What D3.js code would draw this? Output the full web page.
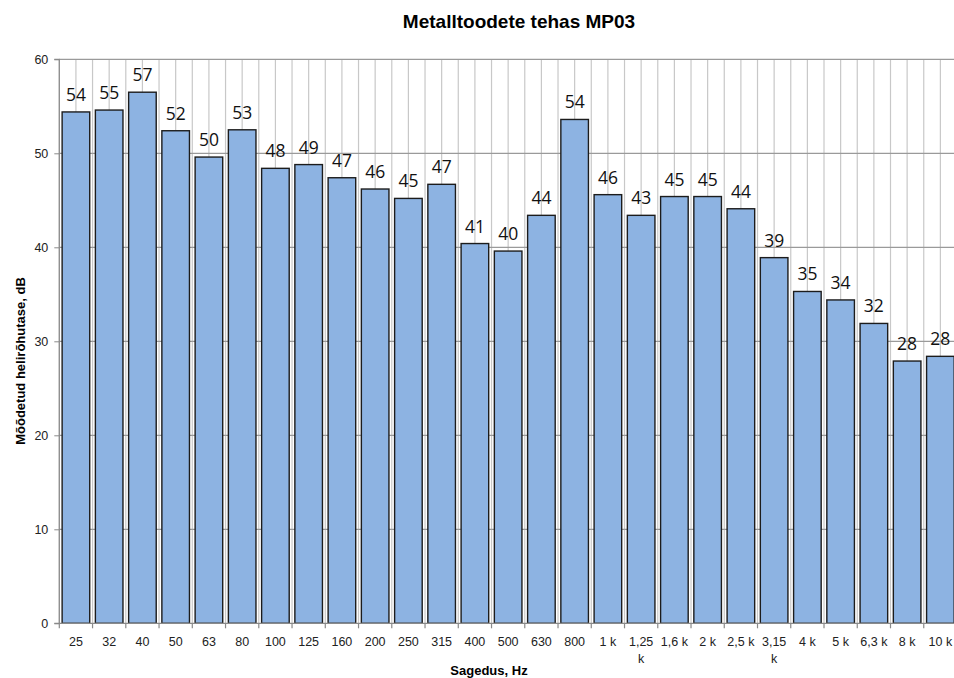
<!DOCTYPE html>
<html>
<head>
<meta charset="utf-8">
<script src="https://cdn.jsdelivr.net/npm/d3@7"></script>
<style>
  html, body { margin: 0; padding: 0; background: #fff; }
  svg { display: block; }
</style>
</head>
<body>
<svg id="chart" width="954" height="678"></svg>
<script>
const categories = ["25","32","40","50","63","80","100","125","160","200","250","315","400","500","630","800","1 k","1,25 k","1,6 k","2 k","2,5 k","3,15 k","4 k","5 k","6,3 k","8 k","10 k"];
const values = [54.4, 54.6, 56.5, 52.4, 49.6, 52.5, 48.4, 48.8, 47.4, 46.2, 45.2, 46.7, 40.4, 39.6, 43.4, 53.6, 45.6, 43.4, 45.4, 45.4, 44.1, 38.9, 35.3, 34.4, 31.9, 27.9, 28.4];
const valueLabels = ["54","55","57","52","50","53","48","49","47","46","45","47","41","40","44","54","46","43","45","45","44","39","35","34","32","28","28"];
const yTicks = [0, 10, 20, 30, 40, 50, 60];
const chartTitle = "Metalltoodete tehas MP03";
const xTitle = "Sagedus, Hz";
const yTitle = "Mõõdetud helirõhutase, dB";

const svg = d3.select("#chart");
const plotL = 59.3, plotR = 957, plotT = 59.3, plotB = 623.3;

const x = d3.scaleBand().domain(categories).range([plotL, plotR]).paddingInner(0.17).paddingOuter(0.085);
const xb = d3.scaleBand().domain(categories).range([plotL, plotR]).padding(0);
const y = d3.scaleLinear().domain([0, 60]).range([plotB, plotT]);

// vertical gridlines at band boundaries and centers
const gridG = svg.append("g");
categories.forEach(c => {
  const x0 = xb(c);
  [x0, x0 + xb.bandwidth() / 2].forEach(xx => {
    gridG.append("line").attr("x1", xx).attr("x2", xx).attr("y1", plotT).attr("y2", plotB)
      .attr("stroke", "#c8c8c8").attr("stroke-width", 1.2);
  });
});
// horizontal gridlines
yTicks.forEach(t => {
  if (t === 0) return;
  gridG.append("line").attr("x1", plotL).attr("x2", 954).attr("y1", y(t)).attr("y2", y(t))
    .attr("stroke", "#9a9a9a").attr("stroke-width", 1.2);
});

// bars
svg.append("g").selectAll("rect").data(categories).join("rect")
  .attr("x", d => x(d))
  .attr("width", x.bandwidth())
  .attr("y", (d, i) => y(values[i]))
  .attr("height", (d, i) => y(0) - y(values[i]))
  .attr("fill", "#8db3e2")
  .attr("stroke", "#1c1c1c")
  .attr("stroke-width", 1.4);

// value labels
svg.append("g").selectAll("text").data(categories).join("text")
  .attr("x", d => x(d) + x.bandwidth() / 2)
  .attr("y", (d, i) => y(values[i]) - 11)
  .attr("text-anchor", "middle")
  .attr("font-family", "'Open Sans', sans-serif")
  .attr("font-size", 17.5)
  .attr("fill", "#111")
  .text((d, i) => valueLabels[i]);

// y axis
const yAxis = d3.axisLeft(y).tickValues(yTicks).tickSize(5).tickPadding(6);
const yg = svg.append("g").attr("transform", `translate(${plotL},0)`).call(yAxis);
yg.select(".domain").attr("stroke", "#8a8a8a").attr("stroke-width", 1.2).attr("d", `M-5,${plotT}H0V${plotB}H-5`);
yg.selectAll(".tick line").attr("stroke", "#8a8a8a");
yg.selectAll(".tick text").attr("font-family", "'Liberation Sans', Arial, sans-serif").attr("font-size", 12.5).attr("fill", "#222");

// x axis (ticks at band boundaries)
const xg = svg.append("g").attr("transform", `translate(0,${plotB})`);
xg.append("line").attr("x1", plotL).attr("x2", 954).attr("y1", 0).attr("y2", 0).attr("stroke", "#8a8a8a").attr("stroke-width", 1.2);
categories.forEach(c => {
  xg.append("line").attr("x1", xb(c)).attr("x2", xb(c)).attr("y1", 0).attr("y2", 5).attr("stroke", "#8a8a8a").attr("stroke-width", 1.2);
});
const xl = xg.selectAll("text.xl").data(categories).join("text")
  .attr("class", "xl")
  .attr("x", d => xb(d) + xb.bandwidth() / 2)
  .attr("y", 23)
  .attr("text-anchor", "middle")
  .attr("font-family", "'Liberation Sans', Arial, sans-serif")
  .attr("font-size", 12.5)
  .attr("fill", "#222")
  .text(d => d);
xl.each(function(d) {
  const el = d3.select(this);
  if (this.getComputedTextLength() > xb.bandwidth() - 4 && d.indexOf(" ") > 0) {
    const parts = d.split(" ");
    el.text(null);
    el.append("tspan").attr("x", xb(d) + xb.bandwidth() / 2).attr("dy", 0).text(parts[0]);
    el.append("tspan").attr("x", xb(d) + xb.bandwidth() / 2).attr("dy", 17).text(parts.slice(1).join(" "));
  }
});

// titles
svg.append("text").attr("x", 519).attr("y", 28).attr("text-anchor", "middle")
  .attr("font-family", "'Liberation Sans', Arial, sans-serif")
  .attr("font-weight", "bold").attr("font-size", 19).attr("fill", "#000").text(chartTitle);
svg.append("text").attr("x", 489).attr("y", 675).attr("text-anchor", "middle")
  .attr("font-family", "'Liberation Sans', Arial, sans-serif")
  .attr("font-weight", "bold").attr("font-size", 13).attr("fill", "#000").text(xTitle);
svg.append("text").attr("transform", "translate(25,361) rotate(-90)").attr("text-anchor", "middle")
  .attr("font-family", "'Liberation Sans', Arial, sans-serif")
  .attr("font-weight", "bold").attr("font-size", 13).attr("fill", "#000").text(yTitle);
</script>
</body>
</html>
